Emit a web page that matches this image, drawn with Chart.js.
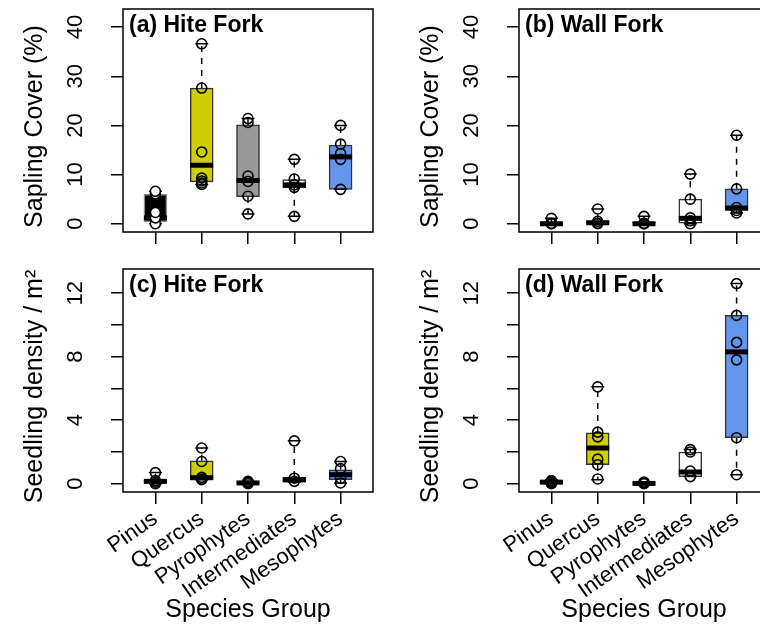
<!DOCTYPE html>
<html>
<head>
<meta charset="utf-8">
<script src="https://cdn.jsdelivr.net/npm/chart.js@4.4.1/dist/chart.umd.min.js"></script>
<style>
  html, body { margin: 0; padding: 0; background: #fff; }
  body { width: 760px; height: 625px; overflow: hidden; position: relative; }
  canvas { position: absolute; }
</style>
</head>
<body>
<canvas id="panelA" width="390" height="250" style="left:0;top:0"></canvas>
<canvas id="panelB" width="390" height="250" style="left:396px;top:0"></canvas>
<canvas id="panelC" width="390" height="365" style="left:0;top:260px"></canvas>
<canvas id="panelD" width="390" height="365" style="left:396px;top:260px"></canvas>
<script>
// Species groups and box fill colours
const groups = ['Pinus', 'Quercus', 'Pyrophytes', 'Intermediates', 'Mesophytes'];
const boxColors = ['#000000', '#CDCD00', '#999999', '#FFFFFF', '#6495ED'];

// Box stats per group: [lower whisker, Q1, median, Q3, upper whisker]
const hiteSapling = [
    [0, 0.4, 1.2, 6.0, 6.6],
    [8.0, 8.5, 11.9, 27.6, 36.6],
    [2.0, 5.5, 8.8, 20.1, 21.4],
    [1.5, 7.3, 7.9, 9.0, 13.1],
    [7.0, 7.0, 13.6, 16.0, 20.0]
];
const wallSapling = [
    [0, 0, 0, 0.2, 1.1],
    [0, 0, 0.2, 0.6, 3.0],
    [0, 0, 0, 0.3, 1.5],
    [0, 0.1, 1.1, 5.0, 10.1],
    [2.2, 2.7, 3.2, 7.1, 18.0]
];
const hiteSeedling = [
    [0, 0.05, 0.15, 0.25, 0.7],
    [0.25, 0.25, 0.38, 1.45, 2.25],
    [0, 0, 0.05, 0.1, 0.15],
    [0.1, 0.1, 0.25, 0.42, 2.7],
    [0.05, 0.25, 0.57, 0.88, 1.4]
];
const wallSeedling = [
    [0, 0.05, 0.1, 0.15, 0.25],
    [0.25, 1.2, 2.25, 3.2, 6.1],
    [0, 0, 0.02, 0.05, 0.1],
    [0.45, 0.45, 0.74, 2.0, 2.15],
    [0.57, 2.9, 8.3, 10.6, 12.6]
];

// Individual site values per group
const hiteSaplingPts = [
    [0, 1.2, 2.3, 6.1, 6.6],
    [36.6, 27.6, 14.6, 9.3, 8.7, 8.3, 8.0],
    [21.4, 20.6, 9.7, 8.6, 5.6, 2.0],
    [13.1, 9.1, 7.9, 7.4, 1.5],
    [20.0, 16.2, 14.3, 13.1, 7.0]
];
const wallSaplingPts = [
    [1.1, 0.1, 0, 0],
    [3.0, 0.5, 0.1, 0],
    [1.5, 0.1, 0, 0],
    [10.1, 5.0, 1.2, 0.6, 0],
    [18.0, 7.1, 3.3, 2.7, 2.2]
];
const hiteSeedlingPts = [
    [0.7, 0.2, 0.1, 0],
    [2.25, 1.4, 0.4, 0.3, 0.25],
    [0.15, 0.1, 0.05, 0],
    [2.7, 0.35, 0.15],
    [1.4, 0.95, 0.35, 0.05]
];
const wallSeedlingPts = [
    [0.2, 0.15, 0.1, 0.05, 0],
    [6.1, 3.25, 2.95, 1.55, 1.2, 0.3],
    [0.1, 0.05, 0],
    [2.15, 2.0, 0.8, 0.45],
    [12.6, 10.6, 8.9, 7.8, 2.9, 0.57]
];

// Axis ticks
const saplingTicks = [0, 10, 20, 30, 40];
const saplingLabels = [0, 10, 20, 30, 40];
const seedlingTicks = [0, 2, 4, 6, 8, 10, 12];
const seedlingLabels = [0, 4, 8, 12];

const FONT = '"Liberation Sans", Arial, Helvetica, sans-serif';
Chart.defaults.font.family = FONT;
Chart.defaults.color = '#000';

function makePanel(id, p) {
    const boxData = p.stats.map((s, i) => ({ x: i + 1, y: [s[1], s[3]] }));
    const ptData = [];
    p.pts.forEach((arr, i) => arr.forEach(v => ptData.push({ x: i + 1, y: v })));

    const tickGrid = { drawOnChartArea: false, drawTicks: true, tickLength: 12, color: '#000', lineWidth: 1.5, offset: false };

    const boxExtras = {
        id: 'boxExtras',
        // whiskers, staples and medians right after the boxes, under the points
        afterDatasetDraw(chart, args) {
            if (args.index !== 1) return;
            const ctx = chart.ctx, xs = chart.scales.x, ys = chart.scales.y;
            ctx.save();
            ctx.strokeStyle = '#000';
            p.stats.forEach((s, i) => {
                const x = xs.getPixelForValue(i + 1);
                const [lo, q1, med, q3, hi] = s.map(v => ys.getPixelForValue(v));
                ctx.lineWidth = 1.5;
                ctx.setLineDash([6, 6]);
                ctx.beginPath();
                ctx.moveTo(x, q3); ctx.lineTo(x, hi);
                ctx.moveTo(x, q1); ctx.lineTo(x, lo);
                ctx.stroke();
                ctx.setLineDash([]);
                ctx.beginPath();
                ctx.moveTo(x - 6.5, hi); ctx.lineTo(x + 6.5, hi);
                ctx.moveTo(x - 6.5, lo); ctx.lineTo(x + 6.5, lo);
                ctx.stroke();
                ctx.lineWidth = 5;
                ctx.beginPath();
                ctx.moveTo(x - 11.5, med); ctx.lineTo(x + 11.5, med);
                ctx.stroke();
            });
            ctx.restore();
        },
        afterDraw(chart) {
            const ctx = chart.ctx, ys = chart.scales.y;
            const { left, right, top, bottom } = chart.chartArea;
            ctx.save();
            ctx.strokeStyle = '#000';
            ctx.lineWidth = 1.5;
            ctx.strokeRect(left, top, right - left, bottom - top);

            ctx.fillStyle = '#000';
            ctx.font = 'bold 23px ' + FONT;
            ctx.textAlign = 'left';
            ctx.textBaseline = 'alphabetic';
            ctx.fillText(p.label, left + 6, top + 23);

            // y tick labels, parallel to the axis
            ctx.font = '22px ' + FONT;
            ctx.textAlign = 'center';
            p.yLabels.forEach(v => {
                ctx.save();
                ctx.translate(81.5, ys.getPixelForValue(v));
                ctx.rotate(-Math.PI / 2);
                ctx.fillText(String(v), 0, 0);
                ctx.restore();
            });

            // y axis title
            ctx.font = '25px ' + FONT;
            ctx.save();
            ctx.translate(41.5, (top + bottom) / 2 + 6);
            ctx.rotate(-Math.PI / 2);
            ctx.fillText(p.yTitle, 0, 0);
            ctx.restore();
            ctx.restore();
        }
    };

    return new Chart(document.getElementById(id), {
        type: 'bar',
        data: {
            datasets: [
                {
                    type: 'scatter',
                    data: ptData,
                    pointRadius: 5,
                    pointHoverRadius: 5,
                    pointBorderWidth: 1.6,
                    pointBorderColor: '#000',
                    pointBackgroundColor: c => (p.whitePinus && c.raw && c.raw.x === 1) ? '#FFFFFF' : 'rgba(0,0,0,0)'
                },
                {
                    type: 'bar',
                    data: boxData,
                    backgroundColor: boxColors,
                    borderColor: p.whitePinus ? ['#8a8a8a', '#333', '#333', '#333', '#333'] : '#333',
                    borderWidth: 1.5,
                    borderSkipped: false,
                    barThickness: 23
                }
            ]
        },
        options: {
            responsive: false,
            animation: false,
            devicePixelRatio: 1,
            events: [],
            layout: { padding: { top: 9, right: 17, left: 0, bottom: 0 } },
            plugins: { legend: { display: false }, tooltip: { enabled: false } },
            scales: {
                x: {
                    type: 'linear',
                    min: 0.3,
                    max: 5.7,
                    offset: false,
                    afterBuildTicks: s => { s.ticks = groups.map((g, i) => ({ value: i + 1 })); },
                    afterFit: s => { s.height = p.bottom ? 133 : 18; },
                    grid: tickGrid,
                    border: { display: false },
                    ticks: {
                        display: p.bottom,
                        autoSkip: false,
                        minRotation: 35,
                        maxRotation: 35,
                        padding: 2,
                        color: '#000',
                        font: { size: 22 },
                        callback: v => groups[v - 1]
                    },
                    title: {
                        display: p.bottom,
                        text: 'Species Group',
                        color: '#000',
                        font: { size: 25 },
                        padding: { top: 0, bottom: 0 }
                    }
                },
                y: {
                    type: 'linear',
                    min: p.yMin,
                    max: p.yMax,
                    afterBuildTicks: s => { s.ticks = p.yTicks.map(v => ({ value: v })); },
                    afterFit: s => { s.width = 123; },
                    grid: tickGrid,
                    border: { display: false },
                    ticks: { display: false }
                }
            }
        },
        plugins: [boxExtras]
    });
}

document.addEventListener('DOMContentLoaded', function () {
    makePanel('panelA', {
        stats: hiteSapling, pts: hiteSaplingPts, label: '(a) Hite Fork',
        yMin: -1.68, yMax: 43.68, yTicks: saplingTicks, yLabels: saplingLabels,
        yTitle: 'Sapling Cover (%)', bottom: false, whitePinus: true
    });
    makePanel('panelB', {
        stats: wallSapling, pts: wallSaplingPts, label: '(b) Wall Fork',
        yMin: -1.68, yMax: 43.68, yTicks: saplingTicks, yLabels: saplingLabels,
        yTitle: 'Sapling Cover (%)', bottom: false, whitePinus: false
    });
    makePanel('panelC', {
        stats: hiteSeedling, pts: hiteSeedlingPts, label: '(c) Hite Fork',
        yMin: -0.52, yMax: 13.52, yTicks: seedlingTicks, yLabels: seedlingLabels,
        yTitle: 'Seedling density / m²', bottom: true, whitePinus: false
    });
    makePanel('panelD', {
        stats: wallSeedling, pts: wallSeedlingPts, label: '(d) Wall Fork',
        yMin: -0.52, yMax: 13.52, yTicks: seedlingTicks, yLabels: seedlingLabels,
        yTitle: 'Seedling density / m²', bottom: true, whitePinus: false
    });
});
</script>
</body>
</html>
